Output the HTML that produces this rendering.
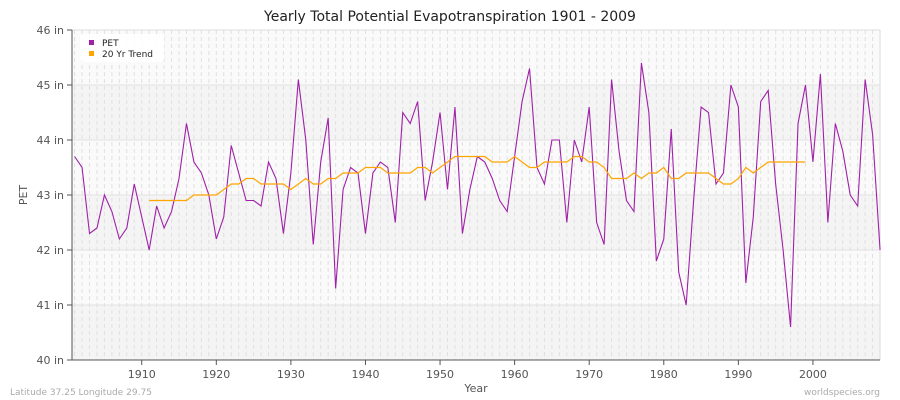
<!DOCTYPE html><html><head><style>body{margin:0;background:#fff}svg{display:block;font-family:"DejaVu Sans",sans-serif}</style></head><body>
<svg id="s" width="900" height="400" xmlns="http://www.w3.org/2000/svg"></svg>
<script>
const s=document.getElementById('s');
const X=y=>74.6+(y-1901)*7.458, Y=v=>30+(46-v)*55;
let h='<rect width="900" height="400" fill="#fff"/>';
for(let i=0;i<6;i++){h+=`<rect x="72" y="${30+i*55}" width="808" height="55" fill="${i%2?'#f4f4f4':'#fafafa'}"/>`;}
for(let y=1901;y<=2009;y++){h+=`<line x1="${X(y)}" y1="30" x2="${X(y)}" y2="360" stroke="#e0e0e0" stroke-dasharray="4,3" stroke-width="1"/>`;}
for(let v=40;v<=46;v++){h+=`<line x1="72" y1="${Y(v)}" x2="880" y2="${Y(v)}" stroke="#e2e2e2"/><line x1="67" y1="${Y(v)}" x2="72" y2="${Y(v)}" stroke="#555"/><text x="64" y="${Y(v)+4}" text-anchor="end" font-size="11" fill="#555">${v} in</text>`;}
h+='<line x1="880" y1="30" x2="880" y2="360" stroke="#ddd"/><line x1="72" y1="30" x2="880" y2="30" stroke="#ddd"/>';
h+='<line x1="72" y1="30" x2="72" y2="360" stroke="#555"/><line x1="72" y1="360" x2="880" y2="360" stroke="#555"/>';
for(let y=1910;y<=2000;y+=10){h+=`<line x1="${X(y)}" y1="360" x2="${X(y)}" y2="365" stroke="#555"/><text x="${X(y)}" y="378" text-anchor="middle" font-size="11" fill="#555">${y}</text>`;}
const d=[43.7,43.5,42.3,42.4,43.0,42.7,42.2,42.4,43.2,42.6,42.0,42.8,42.4,42.7,43.3,44.3,43.6,43.4,43.0,42.2,42.6,43.9,43.4,42.9,42.9,42.8,43.6,43.3,42.3,43.4,45.1,44.0,42.1,43.6,44.4,41.3,43.1,43.5,43.4,42.3,43.4,43.6,43.5,42.5,44.5,44.3,44.7,42.9,43.6,44.5,43.1,44.6,42.3,43.1,43.7,43.6,43.3,42.9,42.7,43.7,44.7,45.3,43.5,43.2,44.0,44.0,42.5,44.0,43.6,44.6,42.5,42.1,45.1,43.8,42.9,42.7,45.4,44.5,41.8,42.2,44.2,41.6,41.0,42.9,44.6,44.5,43.2,43.4,45.0,44.6,41.4,42.6,44.7,44.9,43.2,42.0,40.6,44.3,45.0,43.6,45.2,42.5,44.3,43.8,43.0,42.8,45.1,44.1,42.0];
const t=[42.9,42.9,42.9,42.9,42.9,42.9,43.0,43.0,43.0,43.0,43.1,43.2,43.2,43.3,43.3,43.2,43.2,43.2,43.2,43.1,43.2,43.3,43.2,43.2,43.3,43.3,43.4,43.4,43.4,43.5,43.5,43.5,43.4,43.4,43.4,43.4,43.5,43.5,43.4,43.5,43.6,43.7,43.7,43.7,43.7,43.7,43.6,43.6,43.6,43.7,43.6,43.5,43.5,43.6,43.6,43.6,43.6,43.7,43.7,43.6,43.6,43.5,43.3,43.3,43.3,43.4,43.3,43.4,43.4,43.5,43.3,43.3,43.4,43.4,43.4,43.4,43.3,43.2,43.2,43.3,43.5,43.4,43.5,43.6,43.6,43.6,43.6,43.6,43.6];
h+=`<polyline fill="none" stroke="#a020a8" stroke-width="1.1" points="${d.map((v,i)=>X(1901+i)+','+Y(v)).join(' ')}"/>`;
h+=`<polyline fill="none" stroke="#ffa500" stroke-width="1.2" points="${t.map((v,i)=>X(1911+i)+','+Y(v)).join(' ')}"/>`;
h+='<rect x="80" y="34" width="84" height="28" rx="3" fill="#fff" opacity="0.9"/><rect x="89" y="40" width="5" height="5" fill="#a020a8"/><text x="102" y="46" font-size="9" fill="#222">PET</text><rect x="89" y="51" width="5" height="5" fill="#ffa500"/><text x="102" y="57" font-size="9" fill="#222">20 Yr Trend</text>';
h+='<text x="450" y="21" text-anchor="middle" font-size="14" fill="#222">Yearly Total Potential Evapotranspiration 1901 - 2009</text>';
h+='<text x="476" y="392" text-anchor="middle" font-size="11" fill="#555">Year</text>';
h+='<text x="27" y="195" text-anchor="middle" font-size="11" fill="#555" transform="rotate(-90 27 195)">PET</text>';
h+='<text x="10" y="395" font-size="9" fill="#aaa">Latitude 37.25 Longitude 29.75</text><text x="880" y="395" text-anchor="end" font-size="9" fill="#aaa">worldspecies.org</text>';
s.innerHTML=h;
</script></body></html>
